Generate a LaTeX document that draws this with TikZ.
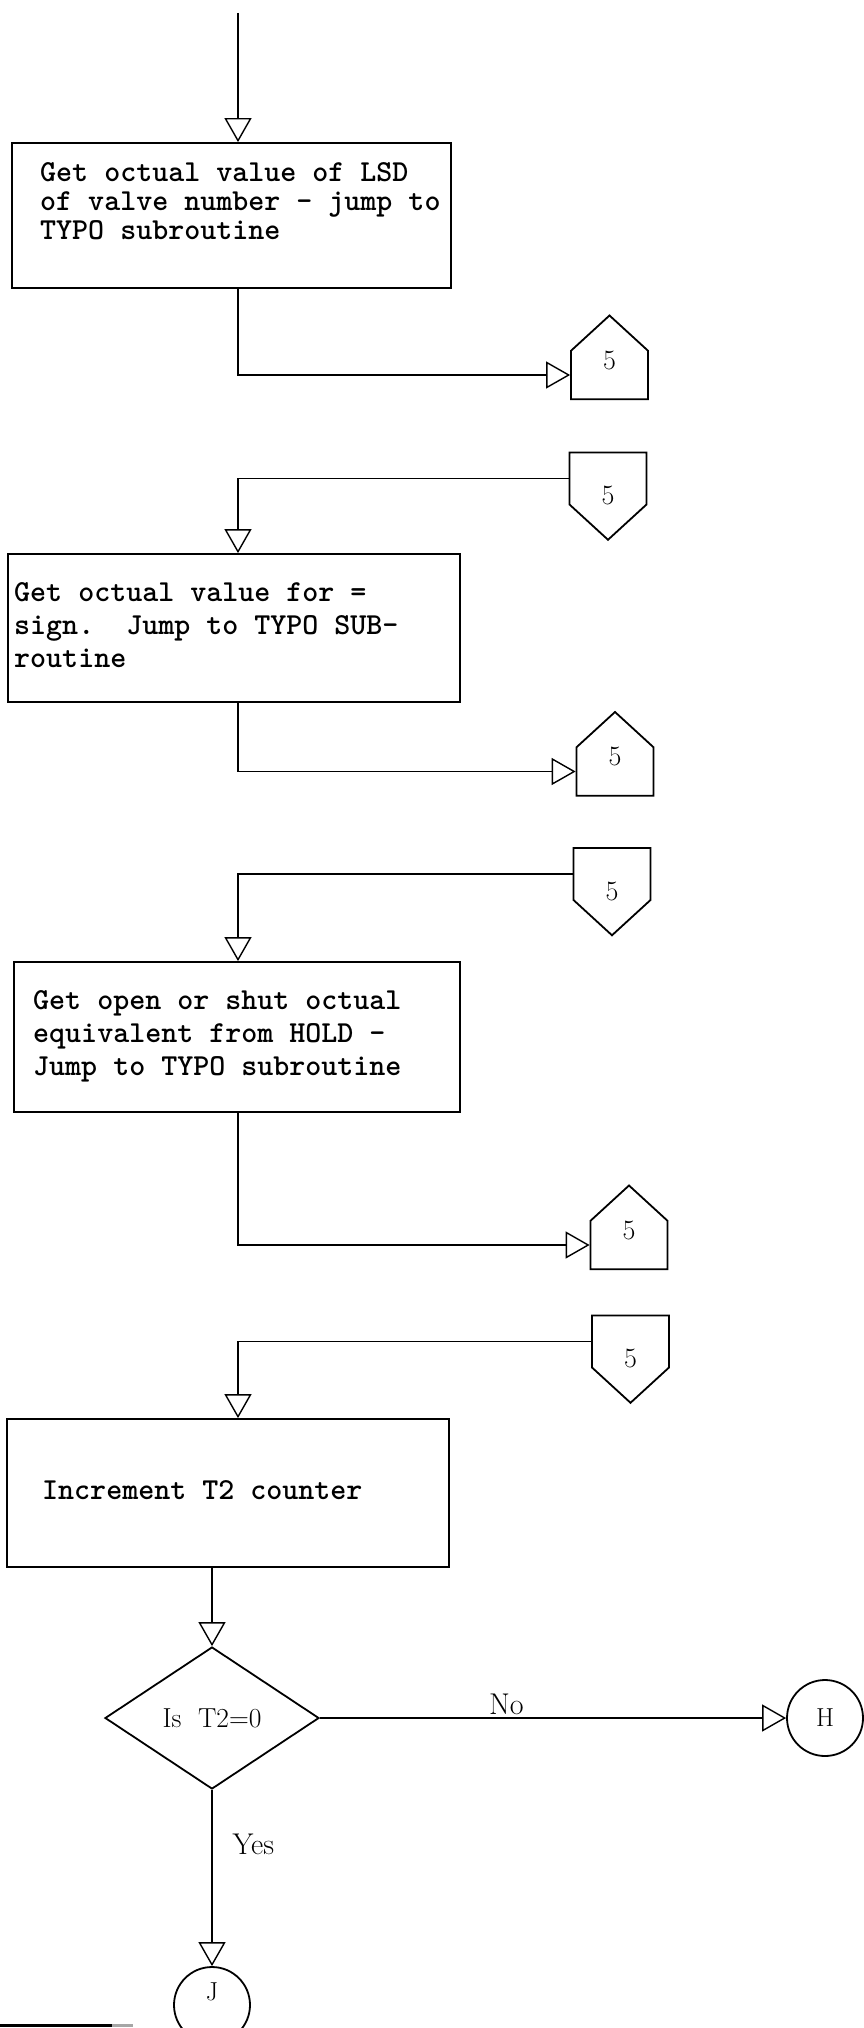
\documentclass[tikz,border=0pt]{standalone}
\usetikzlibrary{shapes.geometric,shapes.symbols,arrows.meta,positioning}

\begin{document}
\begin{tikzpicture}[x=1pt, y=-1pt,
    procbox/.style={rectangle, draw, line width=1.8pt, inner sep=0pt},
    boxtext/.style={anchor=west, align=left, inner sep=0pt, font=\ttfamily\bfseries\fontsize{30.5}{33}\selectfont},
    offout/.style={signal, signal to=north, signal from=nowhere, signal pointer angle=95, draw, line width=1.8pt, minimum width=77pt, minimum height=54pt, inner sep=0pt, text depth=30pt, font=\fontsize{28}{28}\selectfont},
    offin/.style={offout, signal to=south, text depth=0pt, text height=52pt},
    decision/.style={diamond, draw, line width=1.8pt, aspect=1.5, minimum width=214pt, minimum height=142pt, inner sep=0pt, font=\fontsize{27.5}{27.5}\selectfont},
    onpage/.style={circle, draw, line width=1.8pt, minimum size=76pt, inner sep=0pt, font=\fontsize{26}{26}\selectfont},
    flow/.style={line width=1.4pt, -{Triangle[open, length=24pt, width=27pt]}},
    answer/.style={inner sep=0pt, font=\fontsize{30}{30}\selectfont}]

  \useasboundingbox (0,0) rectangle (864,2028);

  % first step
  \coordinate (in) at (238,13);
  \node[procbox, minimum width=439pt, minimum height=145pt] (box1) at (231.5,215.5) {};
  \node[boxtext, font=\ttfamily\bfseries\fontsize{30.5}{29}\selectfont] (t1) at (40,201) {Get octual value of LSD\\of valve number - jump to\\TYPO subroutine};
  \node[offout] (p1o) at (609.5,375) {5};

  % second step
  \node[offin] (p2i) at (608,478.5) {5};
  \node[procbox, minimum width=452pt, minimum height=148pt] (box2) at (234,628) {};
  \node[boxtext] (t2) at (14,625) {Get octual value for =\\sign.\ \ Jump to TYPO SUB-\\routine};
  \node[offout] (p2o) at (615,771.5) {5};

  % third step
  \node[offin] (p3i) at (612,874) {5};
  \node[procbox, minimum width=446pt, minimum height=150pt] (box3) at (237,1037) {};
  \node[boxtext] (t3) at (33,1036) {Get open or shut octual\\equivalent from HOLD -\\Jump to TYPO subroutine};
  \node[offout] (p3o) at (629,1245) {5};

  % counter and test
  \node[offin] (p4i) at (630.5,1341.5) {5};
  \node[procbox, minimum width=442pt, minimum height=148pt] (box4) at (228,1493) {};
  \node[boxtext] (t4) at (42,1490) {Increment T2 counter};
  \node[decision] (dec) at (212,1718) {Is\ \ T2=0};
  \node[onpage] (hcon) at (825,1718) {H};
  \node[onpage, text depth=26pt] (jcon) at (212,2005) {J};

  \draw[flow] (in) -- (in |- box1.north);
  \draw[flow] (in |- box1.south) |- (p1o.west);
  \draw[flow] (p2i.west) -| (in |- box2.north);
  \draw[flow] (in |- box2.south) |- (p2o.west);
  \draw[flow] (p3i.west) -| (in |- box3.north);
  \draw[flow] (in |- box3.south) |- (p3o.west);
  \draw[flow] (p4i.west) -| (in |- box4.north);
  \draw[flow] (box4.south -| dec.north) -- (dec.north);
  \draw[flow] (dec.east) -- node[answer, above=3pt, pos=0.40] {No} (hcon.west);
  \draw[flow] (dec.south) -- node[answer, right=20pt, pos=0.31] {Yes} (jcon.north);

  % edge of the page
  \draw[line width=3pt] (0,2025) -- (112,2025);
  \draw[line width=3pt, black!35] (112,2025) -- (133,2025);
\end{tikzpicture}
\end{document}
